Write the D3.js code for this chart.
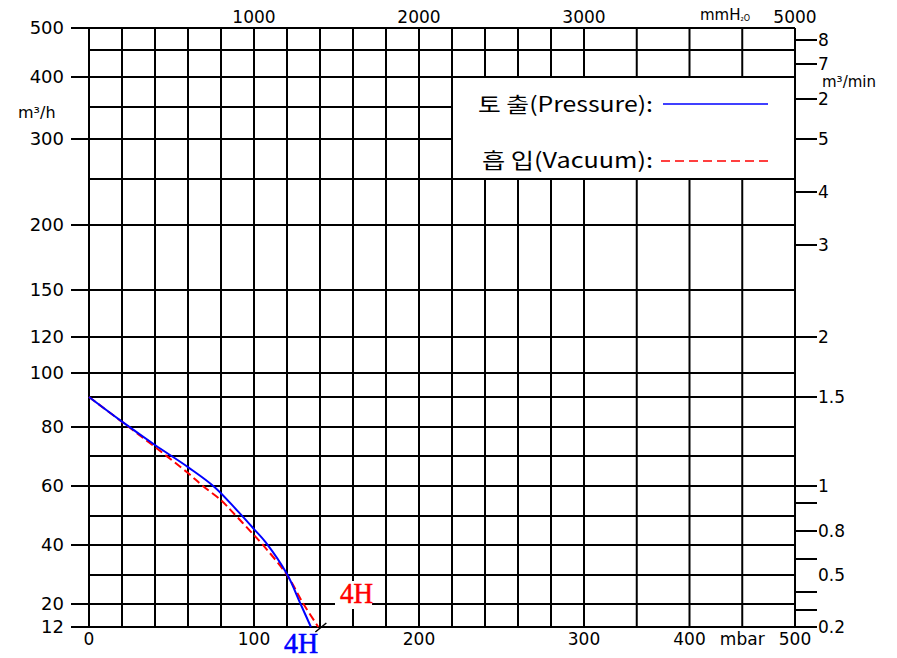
<!DOCTYPE html>
<html>
<head>
<meta charset="utf-8">
<script src="https://cdn.jsdelivr.net/npm/d3@7"></script>
<style>
body{margin:0;background:#fff;}
svg text{font-family:"DejaVu Sans",sans-serif;fill:#000;}
</style>
</head>
<body>
<div id="chart"></div>
<script>
// grid lines (mbar / m3/h)
const xGrid = [0,20,40,60,80,100,120,140,160,180,200,220,240,260,280,300,350,400,450,500];
const yGrid = [12,20,30,40,50,60,70,80,90,100,120,150,200,250,300,350,400,450,500];

// tick labels
const bottomTicks = [0,100,200,300,400,450,500];
const bottomLabels = ["0","100","200","300","400","mbar","500"];
const topTicks = [1000,2000,3000,5000];
const leftTicks = [12,20,40,60,80,100,120,150,200,300,400,500];
const rightTicks = [8,7,6,5,4,3,2,1.5,1,0.9,0.8,0.6,0.4,0.3,0.2];
const rightLabels = ["8","7","2","5","4","3","2","1.5","1","","0.8","","","","0.2"];
const rightTextOnly = [0.5];

// curves: [mbar, m3/h]
const pressure = [[0,90],[20,81.8],[40,73.8],[60,66.3],[76,59.7],[90,51.7],[100,45.5],[107,41],[120,30.3],[128,20.3],[134.5,12]];
const vacuum = [[0,90],[20,81.7],[40,73.1],[60,64.3],[69,60],[80,55.3],[87,51.3],[100,43.4],[105,40.3],[120,30],[130,20],[139,12]];

const W = 897, H = 658;
const svg = d3.select("#chart").append("svg").attr("width", W).attr("height", H);

// the paper scales are not regular, so piecewise
const x = d3.scaleLinear().domain([0,300,500]).range([89,584,795]);
const xTop = d3.scaleLinear().domain([0,3000,5000]).range([89,584,795]);
const y = d3.scaleLinear()
    .domain(yGrid)
    .range([627,604,575,545,516,486,456,427,397,373,337,290,225,179,139,107,77,50,28]);
const yRight = d3.scaleLinear()
    .domain([0.2,0.3,0.4,0.5,0.6,0.8,0.9,1,1.5,2,3,4,5,6,7,8])
    .range([627,610,592,575,559,531,503,486,397,337,245,192,139,99,64,40]);

const g = svg.append("g");

// horizontal grid (labelled ones stick out to the left)
g.selectAll(".hg").data(yGrid).enter().append("line")
    .attr("x1", d => leftTicks.includes(d) ? 71 : x(0))
    .attr("x2", x(500))
    .attr("y1", d => y(d)).attr("y2", d => y(d))
    .attr("stroke", "#000").attr("stroke-width", 2);

g.selectAll(".vg").data(xGrid).enter().append("line")
    .attr("x1", d => x(d)).attr("x2", d => x(d))
    .attr("y1", y(500)).attr("y2", y(12))
    .attr("stroke", "#000").attr("stroke-width", 2);

// left labels
g.selectAll(".lt").data(leftTicks).enter().append("text")
    .attr("x", 64).attr("y", d => y(d))
    .attr("dy", "0.36em").attr("text-anchor", "end")
    .attr("font-size", 18).text(d => d);

svg.append("text").attr("x", 18).attr("y", 118).attr("font-size", 16)
    .text("m³/h");

// bottom labels
g.selectAll(".bt").data(bottomTicks).enter().append("text")
    .attr("x", d => x(d)).attr("y", 645)
    .attr("text-anchor", "middle").attr("font-size", 17)
    .text((d, i) => bottomLabels[i]);

// top labels mmH2O
g.selectAll(".tt").data(topTicks).enter().append("text")
    .attr("x", d => xTop(d)).attr("y", 23)
    .attr("text-anchor", "middle").attr("font-size", 17)
    .text(d => d);
const mm = svg.append("text").attr("x", 700).attr("y", 20).attr("font-size", 15);
mm.append("tspan").text("mmH");
mm.append("tspan").attr("font-size", 8).attr("dy", 1).text("₂O");

// right axis m3/min
g.selectAll(".rt").data(rightTicks).enter().append("line")
    .attr("x1", x(500)).attr("x2", 817)
    .attr("y1", d => yRight(d)).attr("y2", d => yRight(d))
    .attr("stroke", "#000").attr("stroke-width", 2);
g.selectAll(".rl").data(rightTicks.concat(rightTextOnly)).enter().append("text")
    .attr("x", 818).attr("y", d => yRight(d)).attr("dy", "0.36em")
    .attr("font-size", 17)
    .text((d, i) => i < rightLabels.length ? rightLabels[i] : d);
svg.append("text").attr("x", 822).attr("y", 87).attr("font-size", 15)
    .text("m³/min");

// legend box
const lg = svg.append("g");
lg.append("rect")
    .attr("x", x(220)).attr("y", y(400))
    .attr("width", x(500) - x(220)).attr("height", y(250) - y(400))
    .attr("fill", "#fff").attr("stroke", "#000").attr("stroke-width", 2);
lg.append("text").attr("x", 478).attr("y", 112)
    .style("font-family", "'Noto Sans CJK KR',sans-serif").attr("font-size", 21)
    .attr("textLength", 175).attr("lengthAdjust", "spacingAndGlyphs")
    .text("토 출(Pressure):");
lg.append("line").attr("x1", 663).attr("x2", 768).attr("y1", 104).attr("y2", 104)
    .attr("stroke", "#0000ff").attr("stroke-width", 1.6);
lg.append("text").attr("x", 482).attr("y", 168)
    .style("font-family", "'Noto Sans CJK KR',sans-serif").attr("font-size", 21)
    .attr("textLength", 171).attr("lengthAdjust", "spacingAndGlyphs")
    .text("흡 입(Vacuum):");
lg.append("line").attr("x1", 661).attr("x2", 772).attr("y1", 161).attr("y2", 161)
    .attr("stroke", "#ff0000").attr("stroke-width", 1.6).attr("stroke-dasharray", "9,5");

// curves
const line = d3.line().x(d => x(d[0])).y(d => y(d[1])).curve(d3.curveCatmullRom.alpha(0.5));

svg.append("path").datum(vacuum).attr("d", line)
    .attr("fill", "none").attr("stroke", "#ff0000").attr("stroke-width", 2)
    .attr("stroke-dasharray", "8,4");
svg.append("path").datum(pressure).attr("d", line)
    .attr("fill", "none").attr("stroke", "#0000ff").attr("stroke-width", 2);

// model labels
const vEnd = vacuum[vacuum.length - 1];
svg.append("line")
    .attr("x1", x(vEnd[0]) - 3).attr("y1", y(vEnd[1]) + 5)
    .attr("x2", x(vEnd[0]) + 8).attr("y2", y(vEnd[1]) - 4)
    .attr("stroke", "#000").attr("stroke-width", 1.5);

const redBg = svg.append("rect").attr("fill", "#fff");
const red4 = svg.append("text").attr("x", 340).attr("y", 603)
    .style("font-family", "'Liberation Serif',serif").attr("font-size", 29)
    .attr("stroke", "#ff0000").attr("stroke-width", 0.6)
    .attr("textLength", 33).attr("lengthAdjust", "spacingAndGlyphs")
    .style("fill", "#ff0000").text("4H");
const bb = red4.node().getBBox();
redBg.attr("x", bb.x - 5).attr("y", bb.y + 4)
    .attr("width", bb.width + 4).attr("height", bb.height - 4);

svg.append("text").attr("x", 284).attr("y", 653)
    .style("font-family", "'Liberation Serif',serif").attr("font-size", 29)
    .attr("stroke", "#0000ff").attr("stroke-width", 0.6)
    .attr("textLength", 34).attr("lengthAdjust", "spacingAndGlyphs")
    .style("fill", "#0000ff").text("4H");
</script>
</body>
</html>
